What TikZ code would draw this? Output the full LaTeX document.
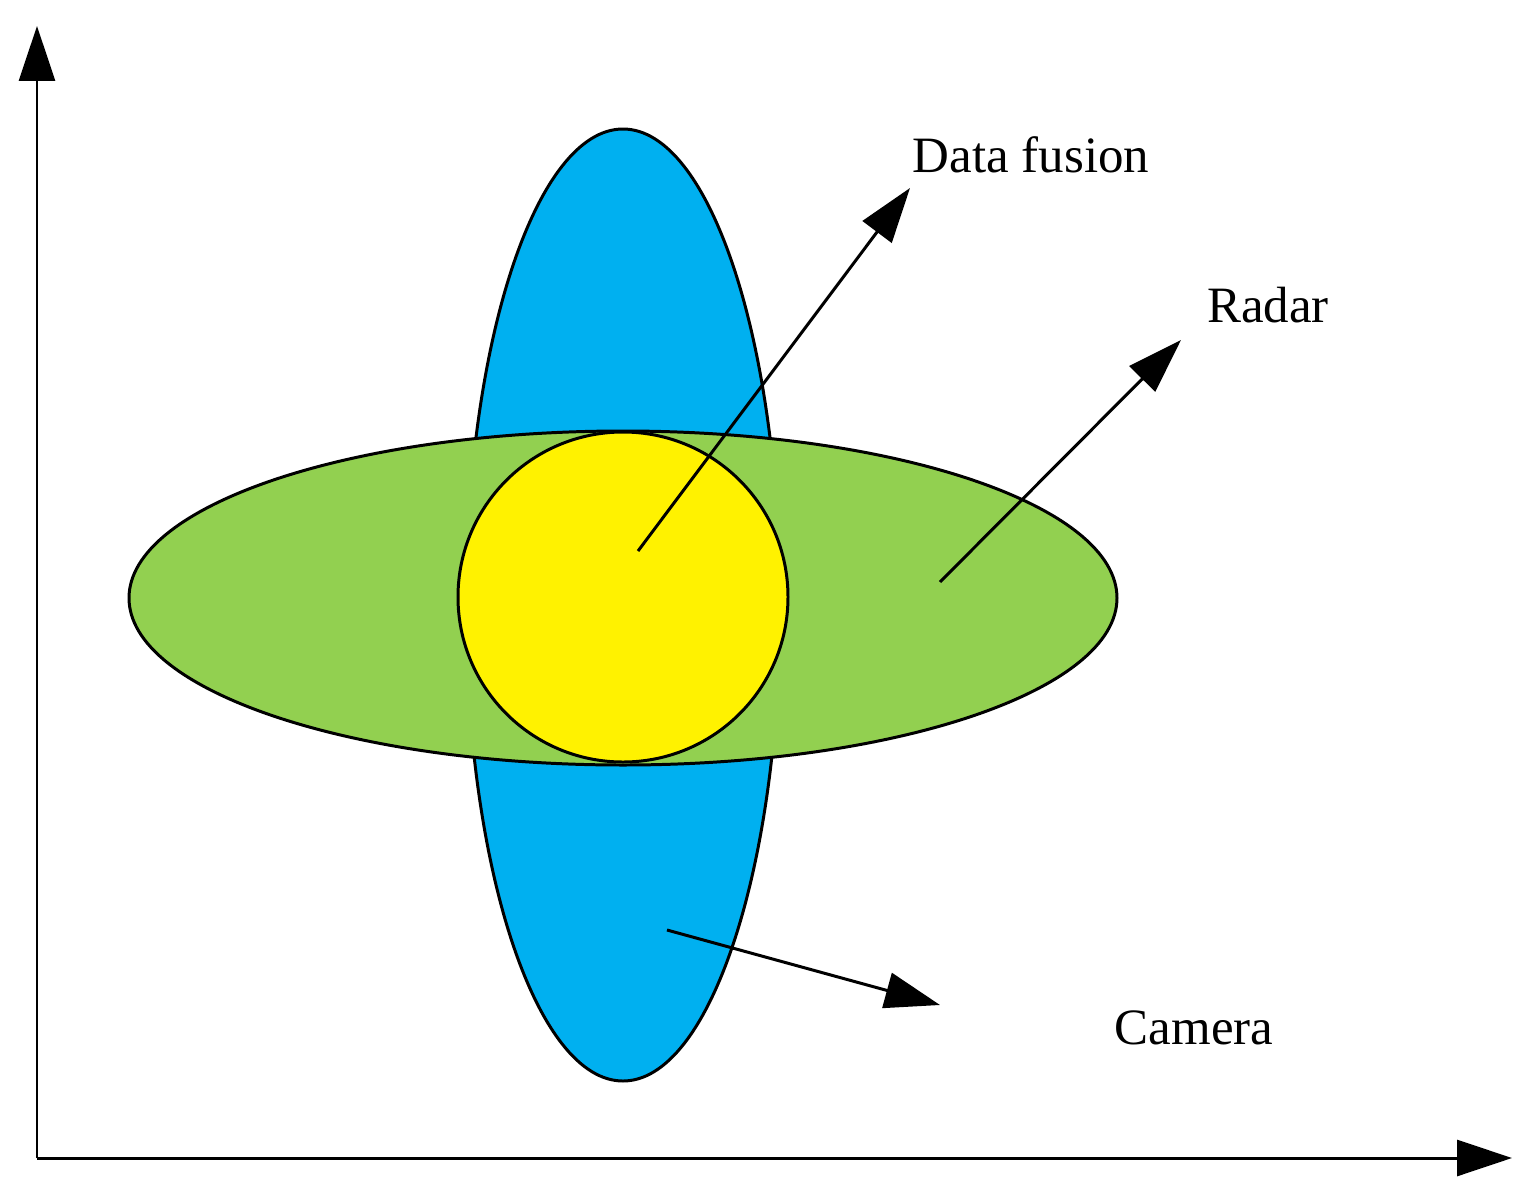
\documentclass[tikz,border=0pt]{standalone}
\usepackage{fontspec}
\setmainfont{Liberation Serif}
\usetikzlibrary{arrows.meta}
\begin{document}
\begin{tikzpicture}[x=0.02cm,y=-0.02cm,line width=1.7pt,
  arr/.style={-{Triangle[length=1.1cm,width=0.72cm]}},
  lbl/.style={font=\fontsize{29}{34}\selectfont,inner sep=0pt}]
\useasboundingbox (0,0) rectangle (1532,1194);
\coordinate (o) at (37,1158);
\coordinate (ytop) at (37,26);
\coordinate (xend) at (1512,1158);
\draw[arr] (o) -- (ytop);
\draw[arr] (o) -- (xend);
\draw[fill={rgb,255:red,0;green,176;blue,240}] (623,605) ellipse [x radius=157,y radius=476];
\draw[fill={rgb,255:red,146;green,208;blue,80}] (623,598) ellipse [x radius=494,y radius=167];
\draw[fill=yellow] (623,597) circle [radius=165];
\coordinate (a1) at (638,551); \coordinate (b1) at (910,188);
\coordinate (a2) at (940,582); \coordinate (b2) at (1181,340);
\coordinate (a3) at (667,930); \coordinate (b3) at (940,1005);
\draw[arr] (a1) -- (b1);
\draw[arr] (a2) -- (b2);
\draw[arr] (a3) -- (b3);
\node[lbl] (t1) at (1031,155) {Data fusion};
\node[lbl] (t2) at (1268,305) {Radar};
\node[lbl] (t3) at (1194,1028) {Camera};
\end{tikzpicture}
\end{document}
